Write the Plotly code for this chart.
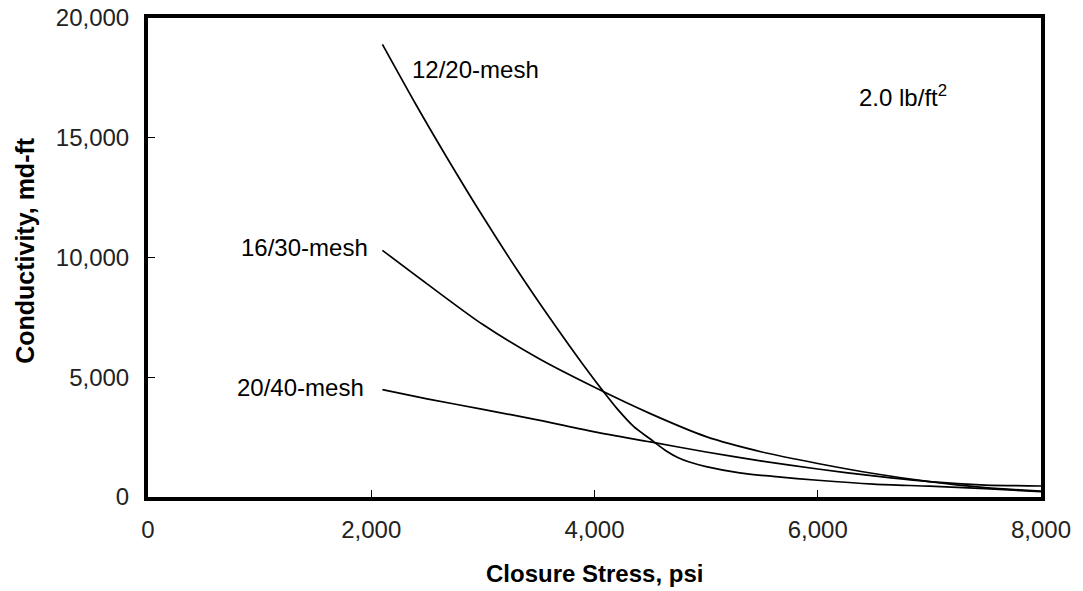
import plotly.graph_objects as go

# Closure stress (psi) and conductivity (md-ft)
x_1220 = [2100, 2400, 2700, 3000, 3300, 3600, 3900, 4080, 4200, 4350, 4500, 4650, 4750, 4850, 5000, 5300, 5600, 6000, 6500, 7000, 7500, 8000]
y_1220 = [18900, 16390, 14000, 11710, 9530, 7470, 5510, 4400, 3700, 2950, 2420, 1900, 1640, 1460, 1270, 1010, 860, 700, 540, 450, 350, 220]

x_1630 = [2100, 2500, 3000, 3500, 4000, 4500, 5000, 5500, 6000, 6500, 7000, 7500, 8000]
y_1630 = [10300, 8900, 7200, 5780, 4580, 3480, 2520, 1880, 1400, 980, 640, 390, 250]

x_2040 = [2100, 2500, 3000, 3500, 4000, 4500, 5000, 5500, 6000, 6500, 7000, 7500, 8000]
y_2040 = [4480, 4100, 3660, 3210, 2720, 2300, 1880, 1500, 1170, 880, 640, 500, 460]

x_ticks = [0, 2000, 4000, 6000, 8000]
y_ticks = [0, 5000, 10000, 15000, 20000]

font_fam = "Liberation Sans, Arial, Helvetica, sans-serif"

fig = go.Figure()
for xs, ys, name in [(x_1220, y_1220, "12/20-mesh"), (x_1630, y_1630, "16/30-mesh"), (x_2040, y_2040, "20/40-mesh")]:
    fig.add_trace(go.Scatter(x=xs, y=ys, mode="lines", name=name,
                             line=dict(color="black", width=1.7, shape="spline", smoothing=0.8),
                             showlegend=False, hoverinfo="x+y+name"))

ann = dict(showarrow=False, font=dict(family=font_fam, size=24, color="black"), xref="x", yref="y")
fig.add_annotation(text="12/20-mesh", x=2346, y=17840, xanchor="left", yanchor="middle", **ann)
fig.add_annotation(text="16/30-mesh", x=1988, y=10400, xanchor="right", yanchor="middle", **ann)
fig.add_annotation(text="20/40-mesh", x=1950, y=4560, xanchor="right", yanchor="middle", **ann)
fig.add_annotation(text="2.0 lb/ft<sup>2</sup>", x=6350, y=16750, xanchor="left", yanchor="middle", **ann)

# axis titles
fig.add_annotation(text="<b>Closure Stress, psi</b>", xref="paper", yref="paper", x=0.5, y=0,
                   xanchor="center", yanchor="middle", yshift=-76, showarrow=False,
                   font=dict(family=font_fam, size=24, color="black"))
fig.add_annotation(text="<b>Conductivity, md-ft</b>", xref="paper", yref="paper", x=0, y=0.514,
                   xanchor="center", yanchor="middle", xshift=-123, textangle=-90, showarrow=False,
                   font=dict(family=font_fam, size=25, color="black"))

fig.update_layout(
    width=1083, height=591,
    margin=dict(l=148, r=42, t=18, b=94, autoexpand=False),
    plot_bgcolor="white", paper_bgcolor="white",
    font=dict(family=font_fam, size=24, color="black"),
)
fig.update_xaxes(range=[0, 8000], tickvals=x_ticks, ticktext=[f"{v:,}" for v in x_ticks],
                 showgrid=False, zeroline=False, showline=True, linecolor="black", linewidth=4,
                 mirror=True, ticks="inside", ticklen=7, tickwidth=1, tickcolor="black",
                 automargin=False, ticklabelstandoff=8, ticklabeloverflow="allow",
                 tickfont=dict(size=24, color="#222"))
fig.update_yaxes(range=[0, 20000], tickvals=y_ticks, ticktext=[f"{v:,}" for v in y_ticks],
                 showgrid=False, zeroline=False, showline=True, linecolor="black", linewidth=4,
                 mirror=True, ticks="inside", ticklen=7, tickwidth=1, tickcolor="black",
                 automargin=False, ticklabelstandoff=10, ticklabeloverflow="allow",
                 tickfont=dict(size=24, color="#222"))

fig.write_html("out.html", config={"displayModeBar": False},
               post_script="document.body.style.margin='0px';document.body.style.overflow='hidden';")
